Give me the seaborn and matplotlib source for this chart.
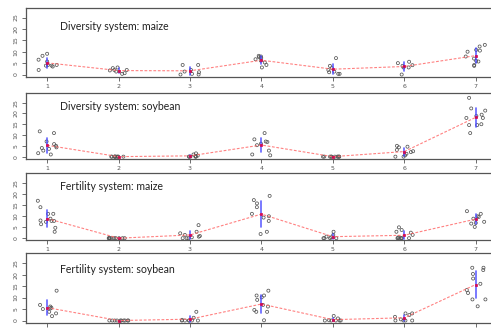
import numpy as np
import pandas as pd
import matplotlib
matplotlib.use("Agg")
import matplotlib.pyplot as plt
import seaborn as sns

# Values per site (1..7), one list of observations per site, for each panel
sites = ["1", "2", "3", "4", "5", "6", "7"]
titles = ["Diversity system: maize", "Diversity system: soybean",
          "Fertility system: maize", "Fertility system: soybean"]

div_maize = [
    [2, 3.5, 3.9, 3.9, 4.2, 4.2, 5.7, 6.5, 8.2, 9.1],
    [0.3, 0.6, 1.3, 1.8, 2, 2, 2.8, 3.1],
    [0, 0, 0.3, 1, 1.3, 2, 4.2, 4.2],
    [3.1, 4.2, 5.3, 6.1, 6.7, 7.3, 7.6, 7.9, 8.2],
    [0.3, 0.3, 1, 1.3, 2, 2.8, 3.8, 7.2],
    [0, 3.1, 3.1, 3.8, 4.1, 5, 5.6],
    [3.8, 4.2, 5.7, 6, 7, 7.9, 10, 10.5, 10.8, 12.3, 13],
]
div_soy = [
    [1, 1.6, 2.8, 3.6, 4, 4.3, 5, 5.8, 7, 10.9, 11.7],
    [0, 0, 0, 0, 0, 0, 0, 0, 0, 0],
    [0, 0, 0, 0, 0, 0.3, 0.5, 1, 1.5],
    [0.6, 1, 2.8, 5.3, 6, 6.8, 7, 8, 10.9],
    [0, 0, 0, 0, 0, 0, 0, 0, 0, 0],
    [0, 0, 0.6, 1.3, 2.1, 2.5, 3.1, 4.3, 4.6, 5],
    [10.9, 14.6, 14.6, 15, 17.9, 17.9, 18.8, 19.4, 21.3, 22.3, 27.2],
]
fert_maize = [
    [2.9, 4.7, 6.3, 7.4, 7.8, 7.8, 8, 8.8, 11, 11, 14, 16.9],
    [0, 0, 0, 0, 0, 0, 0, 0, 0, 0],
    [0, 0, 0, 0.4, 0.7, 1, 1.5, 2.2, 2.9, 5.9],
    [1.9, 2.9, 7.8, 9.3, 9.9, 11, 14, 15.7, 17.2, 19.1],
    [0, 0, 0, 0, 0.4, 0.7, 1.5, 2.9],
    [0, 0, 0, 0, 0, 0, 0.4, 1.5, 2.5, 2.9, 3.7, 4.9],
    [5.1, 6.6, 6.9, 7.4, 8.8, 9.6, 9.9, 11, 12.2],
]
fert_soy = [
    [1.9, 3.1, 3.8, 5, 5.3, 5.6, 6.1, 6.8, 13],
    [0, 0, 0, 0, 0, 0, 0, 0, 0, 0],
    [0, 0, 0, 0, 0, 0, 0.3, 1.2, 3.8],
    [0.1, 3.8, 3.8, 4.6, 6.1, 6.8, 9, 10.1, 10.9, 10.9, 13],
    [0, 0, 0, 0, 0, 0.1, 0.9, 2],
    [0, 0, 0, 0, 0.5, 1.6, 2.4, 3.1, 3.1],
    [6.2, 9.2, 9.2, 12, 13.3, 16, 18.3, 20.3, 22, 23, 23],
]
panels = [div_maize, div_soy, fert_maize, fert_soy]

np.random.seed(7)
sns.set_style("white")
plt.rcParams['font.family'] = ['DejaVu Sans']

fig = plt.figure(figsize=(4.91, 3.30), dpi=100)

# panel boxes in pixels (top, bottom), figure is 330 px high
boxes = [(7.7, 76.7), (93.3, 158.7), (173.3, 240.3), (253.3, 322.7)]
title_offsets = [18.5, 13.5, 13.5, 16]  # px below the top of each box
left_px, right_px = 25.7, 495

for i, ((top, bot), title, groups) in enumerate(zip(boxes, titles, panels)):
    ax = fig.add_axes([left_px / 491, 1 - bot / 330,
                       (right_px - left_px) / 491, (bot - top) / 330])
    df = pd.DataFrame({
        "site": [s for s, g in zip(sites, groups) for _ in g],
        "value": [v for g in groups for v in g],
    })

    sns.stripplot(data=df, x="site", y="value", order=sites, jitter=0.14,
                  color="#555555", size=2.2, linewidth=0.55, edgecolor="#555555",
                  ax=ax, zorder=2)
    for coll in ax.collections:
        coll.set_facecolor("none")

    # blue sd bars
    sns.pointplot(data=df, x="site", y="value", order=sites, errorbar="sd",
                  color="#4646ff", linestyle="none", markersize=0,
                  err_kws={"linewidth": 1.2, "alpha": 0.85, "zorder": 3}, ax=ax)
    # red dashed line through the means
    sns.pointplot(data=df, x="site", y="value", order=sites, errorbar=None,
                  color="#ff6b6b", linestyle="--", linewidth=0.8, marker="s",
                  markersize=1.6, markerfacecolor="#d6004a",
                  markeredgecolor="#d6004a", ax=ax)
    for line in ax.lines:
        if line.get_linestyle() == "--":
            line.set_dashes([2.5, 1.5])
            line.set_alpha(0.85)
            line.set_zorder(4)

    ax.set_xlim(-0.3, 6.27)
    ax.set_ylim(-0.95, 29.3)
    ax.set_yticks([0, 5, 10, 15, 20, 25])
    ax.set_yticklabels(["0", "5", "10", "15", "20", "25"], rotation=90,
                       va="center", fontsize=4.5, color="#555555")
    ax.set_xticks(range(7))
    if i < 3:
        ax.set_xticklabels(sites, fontsize=4.5, color="#555555")
    else:
        ax.set_xticklabels([])
    ax.tick_params(axis="both", length=3, width=0.6, color="#555555", pad=2,
                   left=True, bottom=True)
    ax.set_xlabel("")
    ax.set_ylabel("")
    for sp in ax.spines.values():
        sp.set_color("#555555")
        sp.set_linewidth(0.9)

    ax.text((60 - left_px) / (right_px - left_px), 1 - title_offsets[i] / (bot - top),
            title, transform=ax.transAxes, fontsize=7.6, family="Lato",
            color="#222222", va="center", ha="left")

fig.savefig("out.png", dpi=100)
